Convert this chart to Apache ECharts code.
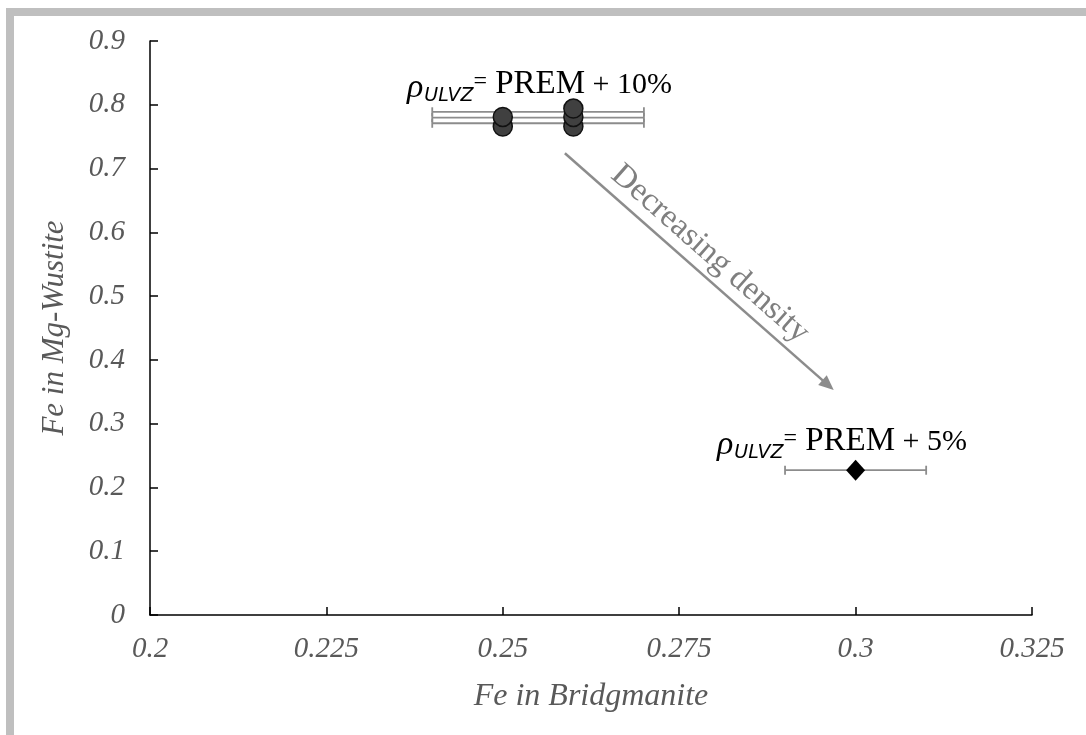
<!DOCTYPE html>
<html>
<head>
<meta charset="utf-8">
<script src="https://cdn.jsdelivr.net/npm/echarts@6/dist/echarts.min.js"></script>
<style>
  html, body { margin: 0; padding: 0; background: #fff; }
  #chart { width: 1086px; height: 735px; }
</style>
</head>
<body>
<div id="chart"></div>
<script>
// data
var xTicks = ['0.2', '0.225', '0.25', '0.275', '0.3', '0.325'];
var yTicks = ['0', '0.1', '0.2', '0.3', '0.4', '0.5', '0.6', '0.7', '0.8', '0.9'];

// PREM + 10% group (circles)
var circleX = [0.25, 0.25, 0.26, 0.26, 0.26];
var circleY = [0.766, 0.781, 0.766, 0.781, 0.794];

// PREM + 5% point (diamond)
var diamondX = [0.30];
var diamondY = [0.227];

// horizontal error bars: [low x, high x, y]
var errLow = [0.24, 0.24, 0.24, 0.29];
var errHigh = [0.27, 0.27, 0.27, 0.31];
var errY = [0.789, 0.780, 0.771, 0.227];

// arrow from / to (data coords)
var arrowFrom = [0.2588, 0.724];
var arrowTo = [0.2961, 0.3605];

var serif = '"Liberation Serif", "DejaVu Serif", serif';

var myChart = echarts.init(document.getElementById('chart'));

function pairs(xs, ys) {
    return xs.map(function (x, i) { return [x, ys[i]]; });
}

var errData = errY.map(function (y, i) { return [errLow[i], errHigh[i], y]; });

function labelRich() {
    return {
        rho: { fontFamily: serif, fontStyle: 'italic', fontSize: 34, color: '#262626',
               verticalAlign: 'bottom', lineHeight: 40, padding: [0, 1, 1, 0] },
        sub: { fontFamily: '"DejaVu Sans", sans-serif', fontStyle: 'italic', fontSize: 19, color: '#262626',
               verticalAlign: 'bottom', lineHeight: 40, padding: [0, 0, 0, 0] },
        eq: { fontFamily: serif, fontSize: 24, color: '#262626',
              verticalAlign: 'bottom', lineHeight: 40, padding: [0, 0, 12, 0] },
        big: { fontFamily: serif, fontSize: 33, color: '#262626',
               verticalAlign: 'bottom', lineHeight: 40, padding: [0, 0, 5, 0] },
        small: { fontFamily: serif, fontSize: 30, color: '#262626',
                 verticalAlign: 'bottom', lineHeight: 40, padding: [0, 0, 6, 0] }
    };
}

option = {
    backgroundColor: '#fff',
    animation: false,
    grid: { left: 150, right: 54, top: 41, bottom: 120 },
    xAxis: {
        type: 'value',
        min: 0.2,
        max: 0.325,
        interval: 0.025,
        name: 'Fe in Bridgmanite',
        nameLocation: 'middle',
        nameGap: 66,
        nameTextStyle: { fontFamily: serif, fontStyle: 'italic', fontSize: 32, color: '#595959' },
        axisLine: { show: true, lineStyle: { color: '#000', width: 1.5 } },
        axisTick: { show: true, inside: true, length: 8, lineStyle: { color: '#000', width: 1.5 } },
        axisLabel: {
            margin: 20,
            fontFamily: serif, fontStyle: 'italic', fontSize: 29, color: '#595959',
            formatter: function (v) { return xTicks[Math.round((v - 0.2) / 0.025)]; }
        },
        splitLine: { show: false }
    },
    yAxis: {
        type: 'value',
        min: 0,
        max: 0.9,
        interval: 0.1,
        name: 'Fe in Mg-Wustite',
        nameLocation: 'middle',
        nameGap: 80,
        nameTextStyle: { fontFamily: serif, fontStyle: 'italic', fontSize: 31, color: '#595959' },
        axisLine: { show: true, lineStyle: { color: '#000', width: 1.5 } },
        axisTick: { show: true, inside: true, length: 8, lineStyle: { color: '#000', width: 1.5 } },
        axisLabel: {
            margin: 25,
            fontFamily: serif, fontStyle: 'italic', fontSize: 29, color: '#595959',
            formatter: function (v) { return yTicks[Math.round(v * 10)]; }
        },
        splitLine: { show: false }
    },
    graphic: [
        // grey frame, top and left edges
        { type: 'rect', shape: { x: 6, y: 8, width: 1080, height: 8 }, style: { fill: '#bfbfbf' }, silent: true },
        { type: 'rect', shape: { x: 6, y: 8, width: 8, height: 727 }, style: { fill: '#bfbfbf' }, silent: true },
        {
            type: 'text', left: 407, top: 68, silent: true,
            style: {
                text: '{rho|ρ}{sub|ULVZ}{eq|=}{big| PREM}{small| + 10%}',
                rich: labelRich()
            }
        },
        {
            type: 'text', left: 717, top: 425, silent: true,
            style: {
                text: '{rho|ρ}{sub|ULVZ}{eq|=}{big| PREM}{small| + 5%}',
                rich: labelRich()
            }
        }
    ],
    series: [
        {
            name: 'error',
            type: 'custom',
            z: 2,
            data: errData,
            renderItem: function (params, api) {
                var lo = api.coord([api.value(0), api.value(2)]);
                var hi = api.coord([api.value(1), api.value(2)]);
                var cap = 4.5;
                var st = { stroke: '#8c8c8c', lineWidth: 1.8 };
                return {
                    type: 'group',
                    children: [
                        { type: 'line', shape: { x1: lo[0], y1: lo[1], x2: hi[0], y2: hi[1] }, style: st },
                        { type: 'line', shape: { x1: lo[0], y1: lo[1] - cap, x2: lo[0], y2: lo[1] + cap }, style: st },
                        { type: 'line', shape: { x1: hi[0], y1: hi[1] - cap, x2: hi[0], y2: hi[1] + cap }, style: st }
                    ]
                };
            },
            markLine: {
                silent: true,
                symbol: ['none', 'triangle'],
                symbolSize: [13, 15],
                lineStyle: { color: '#8c8c8c', width: 2.5, type: 'solid' },
                label: {
                    show: true,
                    position: 'insideMiddleTop',
                    distance: 4,
                    formatter: 'Decreasing density',
                    fontFamily: serif,
                    fontSize: 33,
                    color: '#7f7f7f'
                },
                data: [[{ coord: arrowFrom }, { coord: arrowTo }]]
            }
        },
        {
            name: 'PREM + 10%',
            type: 'scatter',
            z: 3,
            symbol: 'circle',
            symbolSize: 19,
            itemStyle: { color: '#404040', borderColor: '#111', borderWidth: 1.5, opacity: 1 },
            data: pairs(circleX, circleY)
        },
        {
            name: 'PREM + 5%',
            type: 'scatter',
            z: 3,
            symbol: 'diamond',
            symbolSize: [19, 21],
            itemStyle: { color: '#000', opacity: 1 },
            data: pairs(diamondX, diamondY)
        }
    ]
};

myChart.setOption(option);
</script>
</body>
</html>
